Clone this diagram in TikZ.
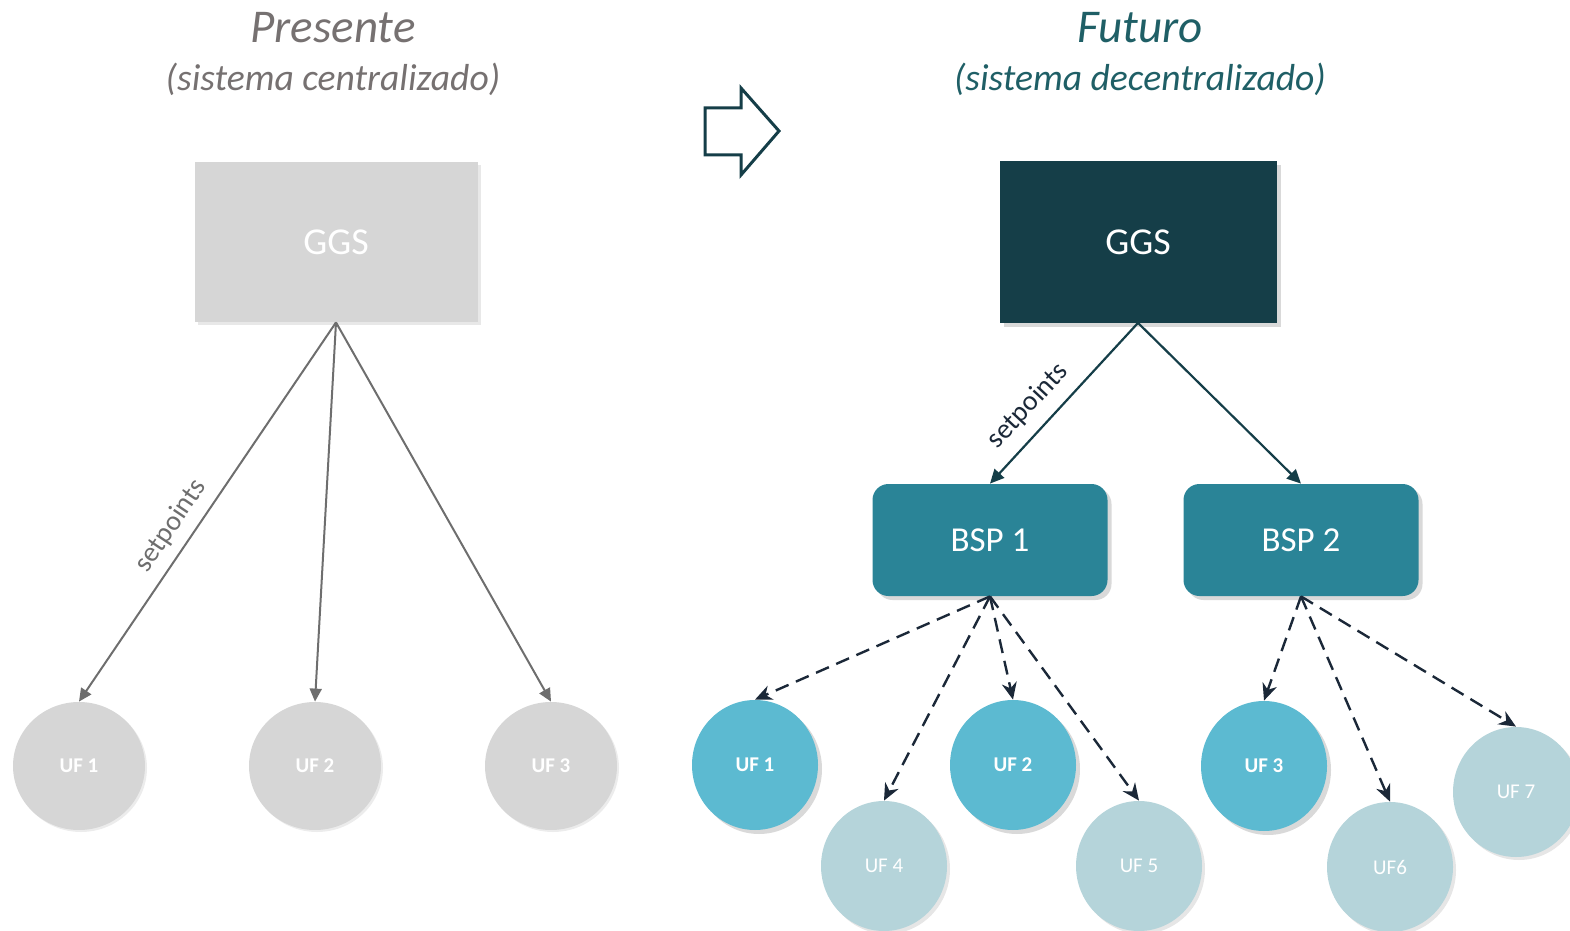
\documentclass[tikz,border=0pt]{standalone}
\usepackage{fontspec}
\setmainfont{Carlito}
\usetikzlibrary{arrows.meta,shapes.geometric,shadows}
\definecolor{greytxt}{HTML}{767171}
\definecolor{tealtxt}{HTML}{1F5F66}
\definecolor{ggsdark}{HTML}{153E48}
\definecolor{bspc}{HTML}{2A8497}
\definecolor{ufdark}{HTML}{5CBAD1}
\definecolor{uflight}{HTML}{B5D4DA}
\definecolor{greyfill}{HTML}{D6D6D6}
\definecolor{greyline}{HTML}{6E6E6E}
\definecolor{navy}{HTML}{1B2838}
\tikzset{
  title/.style={font=\fontsize{23.5pt}{27pt}\selectfont\itshape},
  subtitle/.style={font=\fontsize{18.8pt}{22pt}\selectfont\itshape},
  oldggs/.style={rectangle, fill=greyfill, minimum width=141.5pt, minimum height=80pt, text=white, font=\fontsize{19pt}{22pt}\selectfont,
    drop shadow={opacity=0.18, shadow xshift=1.5pt, shadow yshift=-1.5pt}},
  newggs/.style={rectangle, fill=ggsdark, minimum width=138.5pt, minimum height=80.5pt, text=white, font=\fontsize{19pt}{22pt}\selectfont,
    drop shadow={opacity=0.3, shadow xshift=2pt, shadow yshift=-2pt}},
  bspbox/.style={rectangle, rounded corners=8pt, fill=bspc, minimum width=117.5pt, minimum height=56pt, text=white, font=\fontsize{17.5pt}{20pt}\selectfont,
    drop shadow={opacity=0.3, shadow xshift=2pt, shadow yshift=-2pt}},
  olduf/.style={ellipse, fill=greyfill, minimum width=66pt, minimum height=64pt, inner sep=0pt, text=white, font=\fontsize{10.5pt}{12pt}\selectfont\bfseries,
    drop shadow={opacity=0.15, shadow xshift=1pt, shadow yshift=-1pt}},
  darkuf/.style={ellipse, fill=ufdark, minimum width=63pt, minimum height=65pt, inner sep=0pt, text=white, font=\fontsize{10.5pt}{12pt}\selectfont\bfseries,
    drop shadow={opacity=0.3, shadow xshift=2pt, shadow yshift=-2pt}},
  lightuf/.style={ellipse, fill=uflight, minimum width=63pt, minimum height=65pt, inner sep=0pt, text=white, font=\fontsize{10.5pt}{12pt}\selectfont,
    drop shadow={opacity=0.2, shadow xshift=1.5pt, shadow yshift=-1.5pt}},
  oldarrow/.style={draw=greyline, line width=1pt, -{Triangle[length=6.5pt,width=6pt]}},
  solidarrow/.style={draw=ggsdark, line width=1.1pt, -{Triangle[length=7pt,width=6.5pt]}},
  dasharrow/.style={draw=navy, line width=1.2pt, dash pattern=on 7pt off 4pt, -{Stealth[length=8.5pt,width=7.5pt]}},
  setlbl/.style={font=\fontsize{14pt}{16pt}\selectfont, inner sep=0pt},
  bigarrow/.style={draw=ggsdark, line width=1.5pt, fill=white}
}
\begin{document}
\begin{tikzpicture}[x=0.5pt,y=-0.5pt]
\useasboundingbox (0,0) rectangle (1570,931);
% titles
\node[title, text=greytxt] (tp) at (333,28) {Presente};
\node[subtitle, text=greytxt] (sp) at (333,79) {(sistema centralizado)};
\node[title, text=tealtxt] (tf) at (1140,28) {Futuro};
\node[subtitle, text=tealtxt] (sf) at (1140,79) {(sistema decentralizado)};
% big arrow
\draw[bigarrow] (705,108) -- (741,108) -- (741,88) -- (779,131) -- (741,175) -- (741,155) -- (705,155) -- cycle;
% left part
\node[oldggs] (lggs) at (336,242) {GGS};
\node[olduf] (luf1) at (79,766) {UF 1};
\node[olduf] (luf2) at (315,766) {UF 2};
\node[olduf] (luf3) at (551,766) {UF 3};
\draw[oldarrow] (lggs.south) -- (luf1.north);
\draw[oldarrow] (lggs.south) -- (luf2.north);
\draw[oldarrow] (lggs.south) -- (luf3.north);
\node[setlbl, text=greyline, rotate=56] (lset) at (171,526) {setpoints};
% right part
\node[newggs] (rggs) at (1138,242) {GGS};
\node[bspbox] (bsp1) at (990,540) {BSP 1};
\node[bspbox] (bsp2) at (1301,540) {BSP 2};
\draw[solidarrow] (rggs.south) -- (bsp1.north);
\draw[solidarrow] (rggs.south) -- (bsp2.north);
\node[setlbl, text=navy, rotate=47] (rset) at (1028,406) {setpoints};
\node[darkuf] (ruf1) at (755,765) {UF 1};
\node[darkuf] (ruf2) at (1013,765) {UF 2};
\node[darkuf] (ruf3) at (1264,766) {UF 3};
\node[lightuf] (ruf4) at (884,866) {UF 4};
\node[lightuf] (ruf5) at (1139,866) {UF 5};
\node[lightuf] (ruf6) at (1390,867) {UF6};
\node[lightuf] (ruf7) at (1516,792) {UF 7};
\draw[dasharrow] (bsp1.south) -- (ruf1.north);
\draw[dasharrow] (bsp1.south) -- (ruf4.north);
\draw[dasharrow] (bsp1.south) -- (ruf2.north);
\draw[dasharrow] (bsp1.south) -- (ruf5.north);
\draw[dasharrow] (bsp2.south) -- (ruf3.north);
\draw[dasharrow] (bsp2.south) -- (ruf6.north);
\draw[dasharrow] (bsp2.south) -- (ruf7.north);
\end{tikzpicture}
\end{document}
